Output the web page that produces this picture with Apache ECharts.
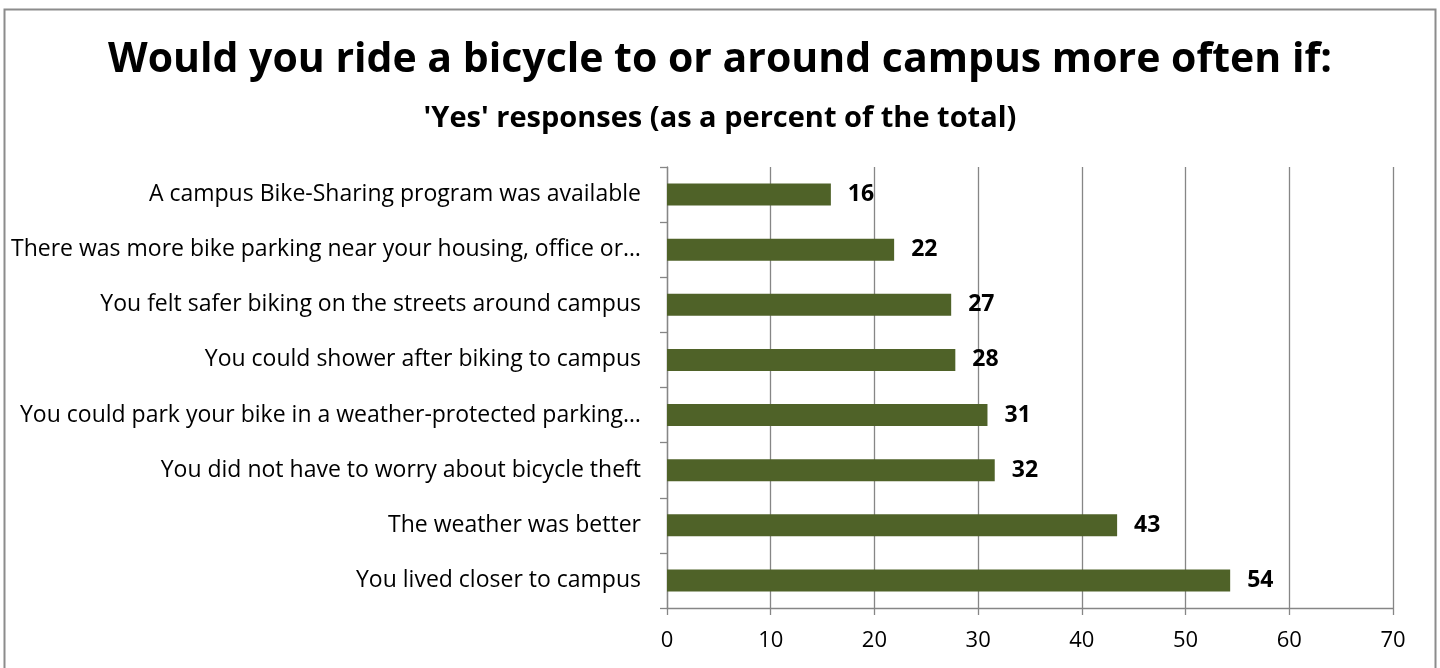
<!DOCTYPE html>
<html>
<head>
<meta charset="utf-8">
<title>Bicycle survey</title>
<script src="https://cdn.jsdelivr.net/npm/echarts@6/dist/echarts.min.js"></script>
<style>
    html,body{margin:0;padding:0;background:#fff;}
    #chart{width:1440px;height:668px;}
</style>
</head>
<body>
<div id="chart"></div>
<script>
// data, top row first
var categories = [
    'A campus Bike-Sharing program was available',
    'There was more bike parking near your housing, office or\u2026',
    'You felt safer biking on the streets around campus',
    'You could shower after biking to campus',
    'You could park your bike in a weather-protected parking\u2026',
    'You did not have to worry about bicycle theft',
    'The weather was better',
    'You lived closer to campus'
];
var yesPercent = [15.8, 21.9, 27.4, 27.8, 30.9, 31.6, 43.4, 54.3];
var axisTicks = {min: 0, max: 70, interval: 10};

var FONT = '"Open Sans", "Noto Sans", sans-serif';
var GRID_GRAY = '#868686';

var chart = echarts.init(document.getElementById('chart'));
var option = {
    backgroundColor: '#fff',
    animation: false,
    title: {
        text: 'Would you ride a bicycle to or around campus more often if:',
        subtext: "'Yes' responses (as a percent of the total)",
        left: 'center',
        top: 35,
        itemGap: 23,
        textStyle: {fontFamily: FONT, fontSize: 41, fontWeight: 'bold', color: '#000'},
        subtextStyle: {fontFamily: FONT, fontSize: 29, fontWeight: 'bold', color: '#000'}
    },
    graphic: [{
        type: 'rect',
        shape: {x: 4.5, y: 9.5, width: 1431, height: 700},
        style: {fill: 'none', stroke: '#8c8c8c', lineWidth: 2},
        silent: true
    }],
    grid: {left: 667, right: 47, top: 167, bottom: 60},
    xAxis: {
        type: 'value',
        min: axisTicks.min,
        max: axisTicks.max,
        interval: axisTicks.interval,
        axisLine: {show: true, lineStyle: {color: GRID_GRAY, width: 1.3}},
        axisTick: {show: true, length: 7, lineStyle: {color: GRID_GRAY, width: 1.3}},
        axisLabel: {fontFamily: FONT, fontSize: 22, color: '#000', margin: 22},
        splitLine: {show: true, lineStyle: {color: GRID_GRAY, width: 1.3}}
    },
    yAxis: {
        type: 'category',
        inverse: true,
        data: categories,
        axisLine: {show: true, lineStyle: {color: GRID_GRAY, width: 1.3}},
        axisTick: {show: true, length: 7, lineStyle: {color: GRID_GRAY, width: 1.3}},
        axisLabel: {fontFamily: FONT, fontSize: 23, color: '#000', margin: 26}
    },
    series: [{
        type: 'bar',
        data: yesPercent,
        barWidth: 22,
        itemStyle: {color: '#4F6228'},
        label: {
            show: true,
            position: 'right',
            distance: 17,
            fontFamily: FONT,
            fontSize: 23,
            fontWeight: 'bold',
            color: '#000',
            formatter: function(p){ return Math.round(p.value); }
        }
    }]
};
chart.setOption(option);
</script>
</body>
</html>
